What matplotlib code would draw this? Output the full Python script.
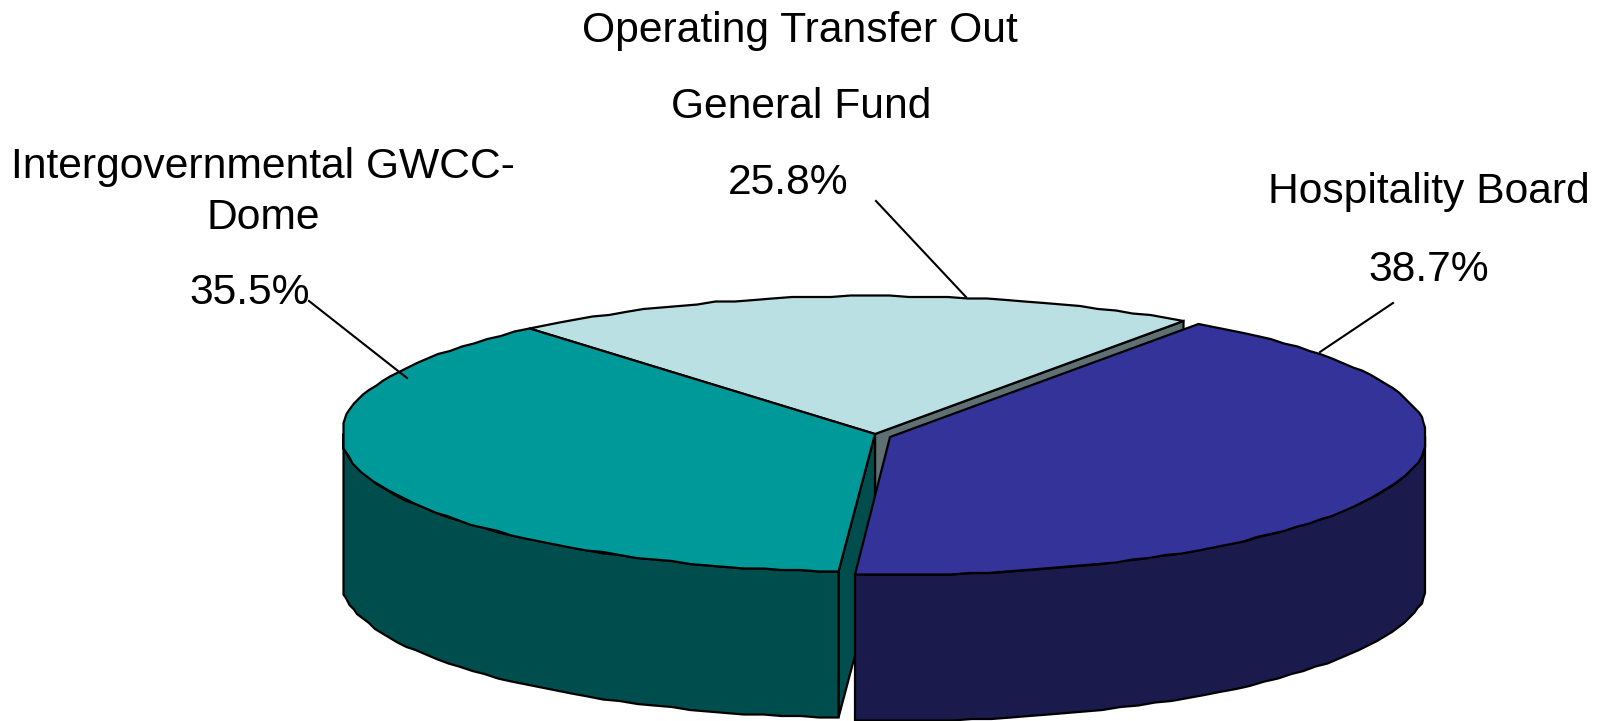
import numpy as np
import matplotlib
matplotlib.use('Agg')
import matplotlib.pyplot as plt

plt.rcParams['font.family'] = ['Liberation Sans', 'DejaVu Sans']

# slices, edges are ellipse angles in degrees
names = ['Operating Transfer Out\nGeneral Fund', 'Intergovernmental GWCC-\nDome', 'Hospitality Board']
shares = [25.8, 35.5, 38.7]
edge_from = [54.8, 130.4, -93.7]
edge_to = [130.4, 266.1, 55.0]
top_colors = ['#BBE0E3', '#009999', '#333399']
wall_colors = ['#5E7072', '#004D4D', '#1A1A4D']

centres = [(875, 434), (875, 434), (890, 437)]
rx = [534, 534, 537]
ry = 138
depth = 146
x_min, x_max = 343, 1425
lw = 1.6

def rim(i, a, b, step=2):
    t = np.radians(np.linspace(a, b, max(int(abs(b - a) / step), 2)))
    cx, cy = centres[i]
    x = np.clip(cx + rx[i] * np.cos(t), x_min, x_max)
    y = cy - ry * np.sin(t)
    # the source outline is a rough polygon, snap to a small grid to get its wobble
    return np.round(x / 1.5) * 1.5, np.round(y / 1.5) * 1.5

def top(ax, i):
    x, y = rim(i, edge_from[i], edge_to[i])
    cx, cy = centres[i]
    ax.fill(np.r_[cx, x], np.r_[cy, y], fc=top_colors[i], ec='black', lw=lw, joinstyle='round')

def outer_wall(ax, i, a, b):
    x, y = rim(i, a, b)
    ax.fill(np.r_[x, x[::-1]], np.r_[y, y[::-1] + depth], fc=wall_colors[i], ec='black', lw=lw)

def inner_wall(ax, i, angle):
    x, y = rim(i, angle, angle, 1)
    cx, cy = centres[i]
    ax.fill([cx, x[0], x[0], cx], [cy, y[0], y[0] + depth, cy + depth],
            fc=wall_colors[i], ec='black', lw=lw)

fig = plt.figure(figsize=(15.98, 7.21), dpi=100)
ax = fig.add_axes([0, 0, 1, 1])
ax.set_xlim(0, 1598)
ax.set_ylim(721, 0)
ax.axis('off')

# back to front
inner_wall(ax, 0, edge_from[0])
top(ax, 0)
inner_wall(ax, 1, edge_to[1])
outer_wall(ax, 1, 180, edge_to[1])
top(ax, 1)
outer_wall(ax, 2, edge_from[2], 0)
top(ax, 2)

# leader lines
ax.plot([876, 966], [201, 297], color='black', lw=1.5)
ax.plot([309, 407], [301, 378], color='black', lw=1.5)
ax.plot([1393, 1320], [303, 352], color='black', lw=1.5)

fs = 30.7
ax.text(800, 31, names[0].split('\n')[0], fontsize=fs, ha='center', va='center')
ax.text(801, 107, names[0].split('\n')[1], fontsize=fs, ha='center', va='center')
ax.text(788, 183, f'{shares[0]}%', fontsize=fs, ha='center', va='center')
ax.text(263, 167, names[1].split('\n')[0], fontsize=fs, ha='center', va='center')
ax.text(263, 218, names[1].split('\n')[1], fontsize=fs, ha='center', va='center')
ax.text(250, 293, f'{shares[1]}%', fontsize=fs, ha='center', va='center')
ax.text(1429, 192, names[2], fontsize=fs, ha='center', va='center')
ax.text(1429, 270, f'{shares[2]}%', fontsize=fs, ha='center', va='center')

fig.savefig('out.png', dpi=100)
